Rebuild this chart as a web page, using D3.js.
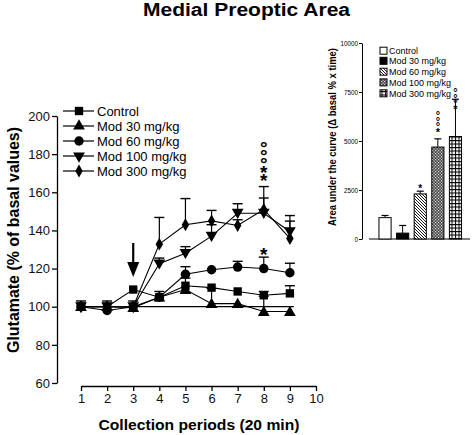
<!DOCTYPE html>
<html><head><meta charset="utf-8">
<script src="https://cdn.jsdelivr.net/npm/d3@7"></script>
<style>body{margin:0;background:#fff}svg{display:block;font-family:"Liberation Sans",Arial,sans-serif}
.vstack{writing-mode:vertical-rl;text-orientation:upright;font-weight:bold}</style>
</head><body><svg id="c" width="475" height="435"></svg>
<script>
// ---- data: time course ----
const periods = [1,2,3,4,5,6,7,8,9];
const seriesNames = ["Control","Mod 30 mg/kg","Mod 60 mg/kg","Mod 100 mg/kg","Mod 300 mg/kg"];
const controlVals = [100,100,109,105,111,110,108,106,107];
const controlErr  = [3,3,1,3,4,0,1,2,4];
const mod30Vals   = [100,100,99.5,105,109,101.6,101.6,97.5,97.5];
const mod30Err    = [1,1,1,1,1,8,1,8,1];
const mod60Vals   = [100,98,100,105,117,119.4,120.8,120,117.8];
const mod60Err    = [1,1,1,1,4,0,3,6,5];
const mod100Vals  = [100,100,100,122.5,128,137,149,149,139.4];
const mod100Err   = [1,1,3,3,3.5,6,5,8,5.5];
const mod300Vals  = [100,100,100,132.8,143,145,142.6,151,135.8];
const mod300Err   = [1,1,1,14,13.7,5.5,3,12,12];
const xTicks = [1,2,3,4,5,6,7,8,9,10];
const yTicks = [60,80,100,120,140,160,180,200];
// ---- data: AUC bars ----
const aucCats = ["Control","Mod 30 mg/kg","Mod 60 mg/kg","Mod 100 mg/kg","Mod 300 mg/kg"];
const aucVals = [1090,300,2300,4690,5230];
const aucErr  = [110,390,140,420,1900];
const aucTicks = [0,2500,5000,7500,10000];

const svg = d3.select("#c");

// title
svg.append("text").attr("x",143).attr("y",16).attr("textLength",207).attr("lengthAdjust","spacingAndGlyphs")
  .attr("font-size",18).attr("font-weight","bold").text("Medial Preoptic Area");

// ---------- left chart ----------
const x = d3.scaleLinear().domain([1,10]).range([81,316]);
const y = d3.scaleLinear().domain([60,200]).range([383,116]);

const yAx = svg.append("g").attr("transform","translate(57,0)")
  .call(d3.axisLeft(y).tickValues(yTicks).tickSize(5).tickSizeOuter(0));
const xAx = svg.append("g").attr("transform","translate(0,386)")
  .call(d3.axisBottom(x).tickValues(xTicks).tickSize(5).tickSizeOuter(0));
[yAx,xAx].forEach(g=>{
  g.selectAll("text").attr("font-size",13).attr("font-family","Liberation Sans, Arial, sans-serif").attr("fill","#111");
  g.selectAll("path,line").attr("stroke","#000").attr("stroke-width",1.3);
});
yAx.selectAll("text").attr("x",-7);
xAx.selectAll("text").attr("y",8);

svg.append("text").attr("transform","translate(19,240) rotate(-90)").attr("text-anchor","middle")
  .attr("font-size",16).attr("font-weight","bold").attr("textLength",226).attr("lengthAdjust","spacingAndGlyphs")
  .text("Glutamate (% of basal values)");
svg.append("text").attr("x",199).attr("y",430).attr("text-anchor","middle")
  .attr("font-size",15.5).attr("font-weight","bold").attr("textLength",201).attr("lengthAdjust","spacingAndGlyphs")
  .text("Collection periods (20 min)");

// baseline 100
svg.append("line").attr("x1",x(3)).attr("x2",x(9)+4).attr("y1",y(100)).attr("y2",y(100))
  .attr("stroke","#000").attr("stroke-width",1.2);

// arrow at period 3
const ax = x(3);
svg.append("line").attr("x1",ax).attr("x2",ax).attr("y1",243).attr("y2",264).attr("stroke","#000").attr("stroke-width",2.2);
svg.append("path").attr("d",`M${ax-6},262L${ax+6},262L${ax},277Z`).attr("fill","#000");

const symbols = [d3.symbolSquare,d3.symbolTriangle,d3.symbolCircle,d3.symbolTriangle,d3.symbolDiamond];
const symSizes = [70,60,70,60,48];
const symRot = [0,0,0,180,0];
const allVals = [controlVals,mod30Vals,mod60Vals,mod100Vals,mod300Vals];
const allErr  = [controlErr,mod30Err,mod60Err,mod100Err,mod300Err];
const line = d3.line().x((d,i)=>x(periods[i])).y(d=>y(d));

// error bars
allVals.forEach((vals,s)=>{
  const g = svg.append("g");
  vals.forEach((v,i)=>{
    const e = allErr[s][i]; if(e<=1.2) return;
    const cx = x(periods[i]);
    g.append("line").attr("x1",cx).attr("x2",cx).attr("y1",y(v)).attr("y2",y(v+e)).attr("stroke","#000").attr("stroke-width",1.2);
    g.append("line").attr("x1",cx-5).attr("x2",cx+5).attr("y1",y(v+e)).attr("y2",y(v+e)).attr("stroke","#000").attr("stroke-width",1.4);
  });
});
// lines + markers
allVals.forEach((vals,s)=>{
  svg.append("path").datum(vals).attr("d",line).attr("fill","none").attr("stroke","#000").attr("stroke-width",1.1);
  svg.append("g").selectAll("path").data(vals).join("path")
    .attr("transform",(d,i)=>`translate(${x(periods[i])},${y(d)+(symRot[s]?-1:(s===1?1:0))}) rotate(${symRot[s]})`)
    .attr("d",d3.symbol().type(symbols[s]).size(symSizes[s])).attr("fill","#000");
});

// significance marks: vertical stacks, one text each (top glyph first)
function vstack(cx, topCenter, str, fs, step){
  svg.append("text").attr("class","vstack").attr("x",cx).attr("y",topCenter - 0.325*fs)
    .attr("font-size",fs).style("letter-spacing",(step-1.117*fs)+"px").text(str);
}
svg.append("text").attr("x",x(8)).attr("y",250+19*0.58).attr("text-anchor","middle")
  .attr("font-size",19).attr("font-weight","bold").text("*");
vstack(x(8), 143, "\u00b0\u00b0\u00b0**", 19, 8.5);

// legend left
seriesNames.forEach((n,s)=>{
  const ly = 111 + s*15;
  svg.append("line").attr("x1",63).attr("x2",94).attr("y1",ly).attr("y2",ly).attr("stroke","#000").attr("stroke-width",1.2);
  svg.append("path").attr("transform",`translate(79,${ly}) rotate(${symRot[s]})`)
    .attr("d",d3.symbol().type(symbols[s]).size(symSizes[s])).attr("fill","#000");
  svg.append("text").attr("x",97).attr("y",ly+4.5).attr("font-size",13).text(n);
});

// ---------- right chart ----------
const defs = svg.append("defs");
const p1 = defs.append("pattern").attr("id","hatch").attr("patternUnits","userSpaceOnUse").attr("width",3).attr("height",3);
p1.append("rect").attr("width",3).attr("height",3).attr("fill","#fff");
p1.append("path").attr("d","M-1,-1L4,4M-1,2L1,4M2,-1L4,1").attr("stroke","#000").attr("stroke-width",0.9);
const p2 = defs.append("pattern").attr("id","check").attr("patternUnits","userSpaceOnUse").attr("width",3).attr("height",3);
p2.append("rect").attr("width",3).attr("height",3).attr("fill","#444");
p2.append("rect").attr("width",1.2).attr("height",1.2).attr("fill","#ddd");
p2.append("rect").attr("x",1.5).attr("y",1.5).attr("width",1.2).attr("height",1.2).attr("fill","#eee");
const p3 = defs.append("pattern").attr("id","grid").attr("patternUnits","userSpaceOnUse").attr("width",3.5).attr("height",3.5);
p3.append("rect").attr("width",3.5).attr("height",3.5).attr("fill","#fff");
p3.append("path").attr("d","M0,0.5H3.5M0.5,0V3.5").attr("stroke","#000").attr("stroke-width",1);
const fills = ["#fff","#000","url(#hatch)","url(#check)","url(#grid)"];

const xb = d3.scaleBand().domain(aucCats).range([373.5,467]).paddingInner(0.31).paddingOuter(0.31);
const yb = d3.scaleLinear().domain([0,10000]).range([239,43]);
const ybAx = svg.append("g").attr("transform","translate(362,0)")
  .call(d3.axisLeft(yb).tickValues(aucTicks).tickFormat(d3.format("d")).tickSize(3).tickSizeOuter(0));
ybAx.selectAll("text").attr("font-size",6.3).attr("font-family","Liberation Sans, Arial, sans-serif").attr("x",-4);
ybAx.selectAll("path,line").attr("stroke","#000");
svg.append("line").attr("x1",369).attr("x2",470).attr("y1",yb(0)).attr("y2",yb(0)).attr("stroke","#000").attr("stroke-width",1);

svg.append("text").attr("transform","translate(336,137) rotate(-90)").attr("text-anchor","middle")
  .attr("font-size",10.5).attr("font-weight","bold").attr("textLength",178).attr("lengthAdjust","spacingAndGlyphs")
  .text("Area under the curve (\u0394 basal % x time)");

aucVals.forEach((v,i)=>{
  const bx = xb(aucCats[i]), bw = xb.bandwidth(), cx = bx + bw/2;
  svg.append("line").attr("x1",cx).attr("x2",cx).attr("y1",yb(v)).attr("y2",yb(v+aucErr[i])).attr("stroke","#000").attr("stroke-width",1);
  svg.append("line").attr("x1",cx-3.5).attr("x2",cx+3.5).attr("y1",yb(v+aucErr[i])).attr("y2",yb(v+aucErr[i])).attr("stroke","#000").attr("stroke-width",1.2);
  svg.append("rect").attr("x",bx).attr("y",yb(v)).attr("width",bw).attr("height",yb(0)-yb(v))
    .attr("fill",fills[i]).attr("stroke","#000").attr("stroke-width",1);
});
const cxOf = i => xb(aucCats[i]) + xb.bandwidth()/2;
svg.append("text").attr("x",cxOf(2)).attr("y",186+10*0.58).attr("text-anchor","middle")
  .attr("font-size",10).attr("font-weight","bold").text("*");
vstack(cxOf(3), 112.7, "\u00b0\u00b0\u00b0*", 11, 5.8);
vstack(cxOf(4), 90, "\u00b0\u00b0\u00b0*", 11, 5.7);

aucCats.forEach((c,i)=>{
  const ly = [50.7,60.8,71.7,82.4,93.3][i];
  svg.append("rect").attr("x",380).attr("y",ly-3.5).attr("width",7).attr("height",7).attr("fill",fills[i]).attr("stroke","#000").attr("stroke-width",1);
  svg.append("text").attr("x",389).attr("y",ly+3.2).attr("font-size",9).text(c);
});
</script></body></html>
